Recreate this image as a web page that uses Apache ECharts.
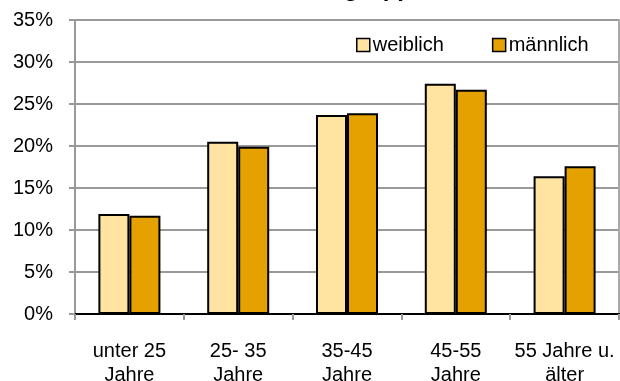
<!DOCTYPE html>
<html>
<head>
<meta charset="utf-8">
<script src="https://cdn.jsdelivr.net/npm/echarts@6/dist/echarts.min.js"></script>
<style>
  html, body { margin: 0; padding: 0; background: #fff; }
  #chart { width: 620px; height: 381px; }
</style>
</head>
<body>
<div id="chart"></div>
<script>
// Anteil nach Altersgruppe und Geschlecht (in %)
const categories = ['unter 25\nJahre', '25- 35\nJahre', '35-45\nJahre', '45-55\nJahre', '55 Jahre u.\nälter'];
const weiblich = [11.9, 20.5, 23.7, 27.4, 16.4];
const maennlich = [11.7, 19.9, 23.9, 26.7, 17.6];
const seriesNames = ['weiblich', 'männlich'];
const titleText = 'Altersgruppen';

const FONT = '"Liberation Sans", Arial, sans-serif';
const colors = ['#FFE3A0', '#E5A100'];

const chart = echarts.init(document.getElementById('chart'), null, { renderer: 'canvas' });

const barStyle = (c) => ({ color: c, borderColor: '#000', borderWidth: 2 });

chart.setOption({
  animation: false,
  backgroundColor: '#fff',
  textStyle: { fontFamily: FONT },
  graphic: [{
    type: 'text',
    left: 276,
    top: -23,
    style: { text: titleText, font: 'bold 24px ' + FONT, fill: '#000' }
  }],
  legend: {
    left: 351,
    top: 30,
    itemWidth: 13,
    itemHeight: 13,
    itemGap: 48,
    icon: 'rect',
    textStyle: { fontSize: 20, color: '#000', fontFamily: FONT, padding: [0, 0, 0, -2] },
    data: seriesNames.map((n, i) => ({
      name: n,
      itemStyle: { color: colors[i], borderColor: '#000', borderWidth: 1.5 }
    }))
  },
  grid: { left: 75, right: 1, top: 20, bottom: 67, outerBoundsMode: 'none', containLabel: false },
  xAxis: [{
    type: 'category',
    data: categories,
    axisLine: { show: true, lineStyle: { color: '#999', width: 2 } },
    axisTick: { show: true, length: 6, lineStyle: { color: '#999', width: 2 } },
    axisLabel: { color: '#000', fontSize: 20, lineHeight: 24, margin: 25, fontFamily: FONT, interval: 0 }
  }, {
    type: 'category',
    position: 'top',
    data: categories,
    axisLine: { show: true, lineStyle: { color: '#000', width: 2 } },
    axisTick: { show: false },
    axisLabel: { show: false }
  }],
  yAxis: [{
    type: 'value',
    min: 0,
    max: 35,
    interval: 5,
    axisLine: { show: true, lineStyle: { color: '#999', width: 2 } },
    axisTick: { show: true, length: 6, lineStyle: { color: '#999', width: 2 } },
    axisLabel: { color: '#000', fontSize: 20, margin: 22, fontFamily: FONT, formatter: '{value}%' },
    splitLine: { show: true, lineStyle: { color: '#999', width: 2 } }
  }, {
    type: 'value',
    position: 'right',
    min: 0,
    max: 35,
    interval: 5,
    axisLine: { show: true, lineStyle: { color: '#aaa', width: 2 } },
    axisTick: { show: false },
    axisLabel: { show: false },
    splitLine: { show: false }
  }],
  series: [{
    name: seriesNames[0],
    type: 'bar',
    data: weiblich,
    barWidth: '28.5%',
    barGap: '0%',
    itemStyle: barStyle(colors[0])
  }, {
    name: seriesNames[1],
    type: 'bar',
    data: maennlich,
    barWidth: '28.5%',
    barGap: '0%',
    itemStyle: barStyle(colors[1])
  }]
});
</script>
</body>
</html>
